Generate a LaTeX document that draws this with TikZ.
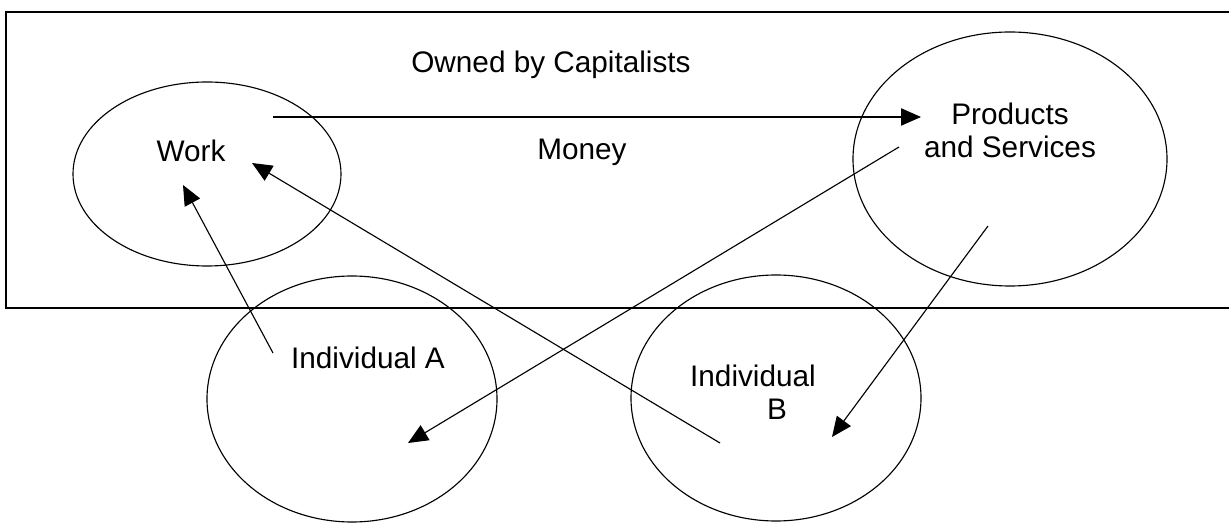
\documentclass[tikz,border=0pt]{standalone}
\usepackage{fontspec}
\setmainfont{Liberation Sans}
\usetikzlibrary{arrows.meta,shapes.geometric}

\begin{document}
\begin{tikzpicture}[x=0.75pt,y=-0.75pt,line width=0.85pt,
  oval/.style={draw,ellipse,inner sep=0pt,outer sep=0pt},
  lbl/.style={inner sep=0pt,font=\fontsize{22.3pt}{24.6pt}\selectfont},
  flow/.style={-{Triangle[length=15pt,width=13pt]}}]
\useasboundingbox (0,0) rectangle (1229,523);
\clip (0,0) rectangle (1229,523);
% --- the box, open to the right ---
\draw (1240,12) -- (6,12) -- (6,308) -- (1240,308);
\node[lbl,anchor=base] (owned) at (551,73) {Owned by Capitalists};
% --- the four ovals ---
\node[oval,minimum width=201pt,minimum height=138pt] (work) at (207,174) {};
\node[oval,minimum width=235.5pt,minimum height=190.5pt] (prod) at (1010,159) {};
\node[oval,minimum width=217.5pt,minimum height=184.5pt] (indA) at (352,399) {};
\node[oval,minimum width=217.5pt,minimum height=184.5pt] (indB) at (776,398) {};
\node[lbl,anchor=base] (worktxt) at (191,162) {Work};
\node[lbl,align=center] (prodtxt) at (1010,130) {Products\\and Services};
\node[lbl,anchor=base] (indAtxt) at (368,369) {Individual A};
\node[lbl,align=left] (indBtxt) at (753,392) {Individual\\\hspace*{57.75pt}B};
\node[lbl,anchor=base] (money) at (582,160) {Money};
% --- ends of the flows ---
\coordinate (m0) at (273,117);  \coordinate (m1) at (921,117);
\coordinate (a0) at (273,353);  \coordinate (a1) at (183,185);
\coordinate (b0) at (720,443);  \coordinate (b1) at (252,163);
\coordinate (p0) at (899,147);  \coordinate (p1) at (408,443);
\coordinate (q0) at (988,226);  \coordinate (q1) at (832,437);
\foreach \s/\t in {m0/m1,a0/a1,b0/b1,p0/p1,q0/q1}
  \draw[flow] (\s) -- (\t);
\end{tikzpicture}
\end{document}
